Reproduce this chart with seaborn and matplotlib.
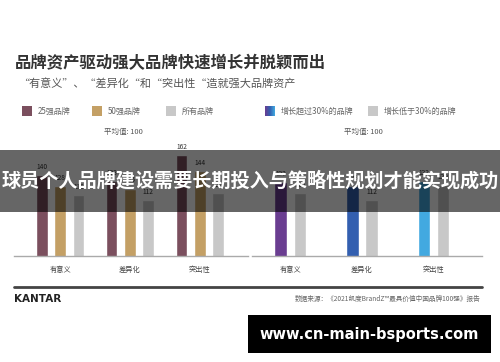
import matplotlib
matplotlib.use("Agg")
import matplotlib.pyplot as plt
import seaborn as sns
import pandas as pd
import numpy as np
from matplotlib.patches import Rectangle
from matplotlib.colors import LinearSegmentedColormap

sns.set_theme(style="white")
plt.rcParams['font.family'] = ['Noto Sans CJK SC', 'DejaVu Sans']

# ---- data ----
categories = ['有意义', '差异化', '突出性']
top25 = [140, 133, 162]
top50 = [128, 125, 144]
all_brands = [118, 112, 120]
left_series = ['25强品牌', '50强品牌', '所有品牌']
left_colors = ['#7B4F5E', '#C4A065', '#C8C8C8']

grow_high = [132, 128, 133]
grow_low = [120, 112, 129]
right_series = ['增长超过30%的品牌', '增长低于30%的品牌']
high_colors = ['#6A3D91', '#335FB0', '#42A9E0']
low_color = '#C8C8C8'

title = '品牌资产驱动强大品牌快速增长并脱颖而出'
subtitle = '“有意义”、“差异化“和“突出性“造就强大品牌资产'
avg_label = '平均值: 100'
banner = '球员个人品牌建设需要长期投入与策略性规划才能实现成功'
source = '数据来源：《2021凯度BrandZ™最具价值中国品牌100强》报告'
watermark = 'www.cn-main-bsports.com'

W, H = 500, 362
fig = plt.figure(figsize=(5, 3.62), dpi=100)
fig.patch.set_facecolor('white')

def fx(px):
    return px / W

def fy(py):
    return 1 - py / H

base_y = 256
top_y = 140
scale = 0.9
ymin = 50
ymax = ymin + (base_y - top_y) / scale

df_left = pd.DataFrame({
    'cat': categories * 3,
    'series': [s for s in left_series for _ in categories],
    'value': top25 + top50 + all_brands,
})
df_right = pd.DataFrame({
    'cat': categories * 2,
    'series': [s for s in right_series for _ in categories],
    'value': grow_high + grow_low,
})

axL = fig.add_axes([fx(14), fy(base_y), fx(234), (base_y - top_y) / H])
sns.barplot(data=df_left, x='cat', y='value', hue='series', hue_order=left_series,
            palette=left_colors, width=0.79, gap=0.36, ax=axL, legend=False,
            saturation=1)
axL.set_xlim(-0.66, 2.69)

axR = fig.add_axes([fx(252), fy(base_y), fx(230), (base_y - top_y) / H])
sns.barplot(data=df_right, x='cat', y='value', hue='series', hue_order=right_series,
            palette=[high_colors[0], low_color], width=0.53, gap=0.36, ax=axR,
            legend=False, saturation=1)
for patch, c in zip(axR.containers[0], high_colors):
    patch.set_facecolor(c)
axR.set_xlim(-0.53, 2.67)

for ax in (axL, axR):
    ax.set_ylim(ymin, ymax)
    ax.set_xlabel('')
    ax.set_ylabel('')
    ax.set_yticks([])
    ax.set_xticks([])
    for s in ['top', 'left', 'right']:
        ax.spines[s].set_visible(False)
    ax.spines['bottom'].set_color('#AAAAAA')
    ax.spines['bottom'].set_linewidth(1)
    ax.patch.set_alpha(0)
    for cont in ax.containers:
        ax.bar_label(cont, fmt='%d', padding=3, fontsize=4.8, color='#333333')
    for i, c in enumerate(categories):
        ax.text(i, -0.12, c, transform=ax.get_xaxis_transform(), ha='center',
                va='center', fontsize=5.2, color='#444444')

# titles
fig.text(fx(15), fy(63), title, fontsize=11.8, fontweight='bold', color='#333333',
         va='center', ha='left')
fig.text(fx(18), fy(83), subtitle, fontsize=8, color='#555555', va='center', ha='left')

# legends
def legend_item(x, y, color, label, gradient=None):
    if gradient is None:
        fig.patches.append(Rectangle((fx(x), fy(y + 5)), fx(10), 10 / H,
                                     transform=fig.transFigure, facecolor=color,
                                     edgecolor='none'))
    else:
        cmap = LinearSegmentedColormap.from_list('g', gradient)
        grad = np.linspace(0, 1, 50).reshape(1, -1)
        gax = fig.add_axes([fx(x), fy(y + 5), fx(10), 10 / H])
        gax.imshow(grad, aspect='auto', cmap=cmap)
        gax.axis('off')
    fig.text(fx(x + 16), fy(y), label, fontsize=5.8, color='#666666', va='center',
             ha='left')

legend_item(22, 111, left_colors[0], left_series[0])
legend_item(92, 111, left_colors[1], left_series[1])
legend_item(166, 111, left_colors[2], left_series[2])
legend_item(265, 111, None, right_series[0], gradient=high_colors)
legend_item(368, 111, low_color, right_series[1])

fig.text(fx(123), fy(132), avg_label, fontsize=5.4, color='#555555', ha='center',
         va='center')
fig.text(fx(363), fy(132), avg_label, fontsize=5.4, color='#555555', ha='center',
         va='center')

# separator line and footer
fig.add_artist(plt.Line2D([fx(14), fx(482)], [fy(287), fy(287)],
                          transform=fig.transFigure, color='#444444', linewidth=2))
fig.text(fx(14), fy(299), 'KANTAR', fontsize=7.5, fontweight='bold', color='#222222',
         ha='left', va='center', family=['DejaVu Sans'])
fig.text(fx(481), fy(299), source, fontsize=4.8, color='#666666', ha='right',
         va='center')

# overlay banner
fig.patches.append(Rectangle((0, fy(212)), 1, 62 / H, transform=fig.transFigure,
                             facecolor='black', alpha=0.6, edgecolor='none',
                             zorder=10))
fig.text(0.5, fy(181), banner, fontsize=13.8, fontweight='bold', color='white',
         ha='center', va='center', zorder=11)

# watermark box
fig.patches.append(Rectangle((fx(248), fy(353)), fx(243), 38 / H,
                             transform=fig.transFigure, facecolor='black',
                             edgecolor='none', zorder=10))
fig.text(fx(369.5), fy(334), watermark, fontsize=10.5, fontweight='bold',
         color='white', ha='center', va='center', zorder=11,
         family=['DejaVu Sans'])

fig.savefig('out.png', dpi=100, facecolor='white')
